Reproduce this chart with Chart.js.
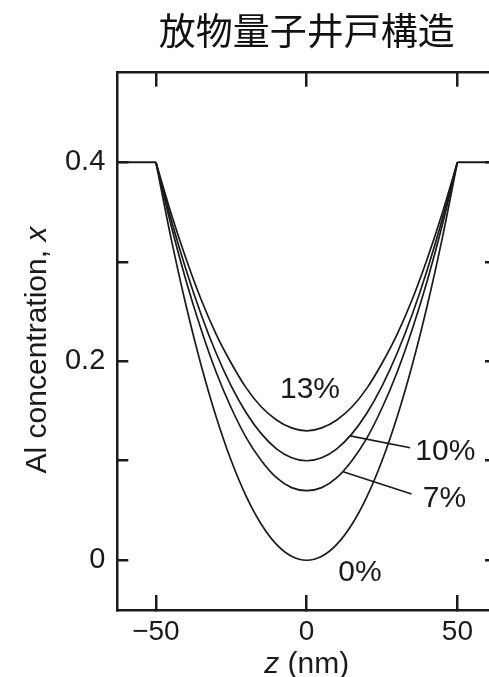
<!DOCTYPE html>
<html><head><meta charset="utf-8">
<script src="https://cdn.jsdelivr.net/npm/chart.js@4.4.1/dist/chart.umd.min.js"></script>
<style>html,body{margin:0;padding:0;background:#fff;overflow:hidden;width:489px;height:677px;}#wrap{position:absolute;left:0;top:0;width:500px;height:677px;}</style>
</head><body><div id="wrap"><canvas id="c"></canvas></div>
<script>
const titleText = '放物量子井戸構造';
const xAxisTitle = ['z', ' (nm)'];            // [italic, regular]
const yAxisTitle = ['Al concentration, ', 'x']; // [regular, italic]
const zNm = [-50,-45,-40,-35,-30,-25,-20,-15,-10,-5,0,5,10,15,20,25,30,35,40,45,50];
const al0  = [0.400,0.324,0.256,0.196,0.144,0.100,0.064,0.036,0.016,0.004,0.000,0.004,0.016,0.036,0.064,0.100,0.144,0.196,0.256,0.324,0.400];
const al7  = [0.400,0.337,0.281,0.232,0.189,0.153,0.123,0.100,0.083,0.073,0.070,0.073,0.083,0.100,0.123,0.153,0.189,0.232,0.281,0.337,0.400];
const al10 = [0.400,0.343,0.292,0.247,0.208,0.175,0.148,0.127,0.112,0.103,0.100,0.103,0.112,0.127,0.148,0.175,0.208,0.247,0.292,0.343,0.400];
const al13 = [0.400,0.349,0.303,0.262,0.227,0.198,0.173,0.154,0.141,0.133,0.130,0.133,0.141,0.154,0.173,0.198,0.227,0.262,0.303,0.349,0.400];
const barrierLeftZ = [-62.8, -50];
const barrierRightZ = [50, 62.8];
const barrierAl = [0.4, 0.4];
const labelTexts = ['13%', '10%', '7%', '0%'];
const labelZ = [1.1, 46.0, 45.7, 17.7];
const labelAl = [0.171, 0.109, 0.062, -0.013];
const leader10Z = [14.4, 34.3];
const leader10Al = [0.125, 0.113];
const leader7Z = [12.1, 34.8];
const leader7Al = [0.089, 0.0665];
const zRange = [-62.8, 62.8];
const alRange = [-0.05, 0.49];
const yLabelled = ['0', '0.2', '0.4'];

const INK = '#1a1a1a';
const LATIN = '"Liberation Sans", Arial, sans-serif';
const pts = (xs, ys) => xs.map((x, i) => ({x: x, y: ys[i]}));
const curve = (d) => ({data: d, borderColor: INK, borderWidth: 1.7, pointRadius: 0, fill: false, cubicInterpolationMode: 'monotone', xAxisID: 'x', yAxisID: 'y'});
const straight = (d, w) => ({data: d, borderColor: INK, borderWidth: w, pointRadius: 0, fill: false, tension: 0, xAxisID: 'x', yAxisID: 'y'});

const textPlugin = {
  id: 'texts',
  afterDraw(chart) {
    const ctx = chart.ctx, xs = chart.scales.x, ys = chart.scales.y, ca = chart.chartArea;
    ctx.save();
    ctx.fillStyle = INK;
    ctx.font = '30px ' + LATIN;
    ctx.textAlign = 'center'; ctx.textBaseline = 'middle';
    labelTexts.forEach((t, i) => ctx.fillText(t, xs.getPixelForValue(labelZ[i]), ys.getPixelForValue(labelAl[i])));
    ctx.textBaseline = 'alphabetic'; ctx.textAlign = 'left';
    const fi = 'italic 30px ' + LATIN, fr = '30px ' + LATIN;
    ctx.font = fi; const w1 = ctx.measureText(xAxisTitle[0]).width;
    ctx.font = fr; const w2 = ctx.measureText(xAxisTitle[1]).width;
    const cx = (ca.left + ca.right) / 2;
    let x0 = cx - (w1 + w2) / 2;
    ctx.font = fi; ctx.fillText(xAxisTitle[0], x0, 673);
    ctx.font = fr; ctx.fillText(xAxisTitle[1], x0 + w1, 673);
    ctx.translate(46, 350);
    ctx.rotate(-Math.PI / 2);
    ctx.font = fr; const v1 = ctx.measureText(yAxisTitle[0]).width;
    ctx.font = fi; const v2 = ctx.measureText(yAxisTitle[1]).width;
    let y0 = -(v1 + v2) / 2;
    ctx.font = fr; ctx.fillText(yAxisTitle[0], y0, 0);
    ctx.font = fi; ctx.fillText(yAxisTitle[1], y0 + v1, 0);
    ctx.restore();
  }
};

const fmtY = (v) => {
  const r = Math.round(v * 10);
  if (r % 2 !== 0) return '';
  return r === 0 ? yLabelled[0] : (r === 2 ? yLabelled[1] : (r === 4 ? yLabelled[2] : ''));
};
const fmtX = (v) => v < 0 ? '\u2212' + Math.abs(v) : String(v);

new Chart(document.getElementById('c'), {
  type: 'line',
  data: {
    datasets: [
      curve(pts(zNm, al0)), curve(pts(zNm, al7)), curve(pts(zNm, al10)), curve(pts(zNm, al13)),
      straight(pts(barrierLeftZ, barrierAl), 1.9), straight(pts(barrierRightZ, barrierAl), 1.9),
      straight(pts(leader10Z, leader10Al), 1.6), straight(pts(leader7Z, leader7Al), 1.6)
    ]
  },
  options: {
    responsive: true, maintainAspectRatio: false, animation: false,
    layout: {padding: {left: 0, right: 4, top: 0, bottom: 0}},
    plugins: {
      legend: {display: false}, tooltip: {enabled: false},
      title: {display: true, text: titleText, fullSize: false, align: 'center', color: '#111',
        font: {family: '"Noto Sans CJK JP", sans-serif', size: 37, weight: 'normal', lineHeight: 1.2},
        padding: {top: 9, bottom: 19.3}}
    },
    scales: {
      x: {type: 'linear', position: 'bottom', min: zRange[0], max: zRange[1],
        afterFit: s => { s.height = 67; },
        ticks: {stepSize: 50, includeBounds: false, padding: 20, color: INK, font: {family: LATIN, size: 28}, callback: fmtX, maxRotation: 0},
        grid: {drawOnChartArea: false, drawTicks: true, tickLength: -15, color: INK, lineWidth: 2.5},
        border: {display: true, color: INK, width: 2.5}},
      x2: {type: 'linear', position: 'top', min: zRange[0], max: zRange[1],
        afterFit: s => { s.height = 0; },
        ticks: {stepSize: 50, includeBounds: false, display: false},
        grid: {drawOnChartArea: false, drawTicks: true, tickLength: -14, color: INK, lineWidth: 2.5},
        border: {display: true, color: INK, width: 2.5}},
      y: {type: 'linear', position: 'left', min: alRange[0], max: alRange[1],
        afterFit: s => { s.width = 117.3; },
        ticks: {stepSize: 0.1, includeBounds: false, padding: 23, color: INK, font: {family: LATIN, size: 29}, callback: fmtY},
        grid: {drawOnChartArea: false, drawTicks: true, tickLength: -11, color: INK, lineWidth: 2.5},
        border: {display: true, color: INK, width: 2.5}},
      y2: {type: 'linear', position: 'right', min: alRange[0], max: alRange[1],
        afterFit: s => { s.width = 0; },
        ticks: {stepSize: 0.1, includeBounds: false, display: false},
        grid: {drawOnChartArea: false, drawTicks: true, tickLength: -11, color: INK, lineWidth: 2.5},
        border: {display: true, color: INK, width: 2.5}}
    }
  },
  plugins: [textPlugin]
});
</script></body></html>
